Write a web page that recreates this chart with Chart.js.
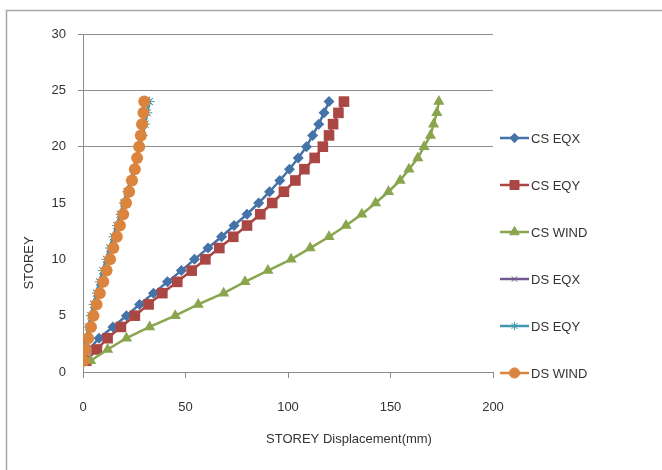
<!DOCTYPE html>
<html>
<head>
<meta charset="utf-8">
<script src="https://cdn.jsdelivr.net/npm/chart.js"></script>
<style>
  html, body { margin: 0; padding: 0; background: #fff; overflow: hidden; }
  #wrap { position: relative; width: 662px; height: 470px; }
</style>
</head>
<body>
<div id="wrap"><canvas id="chart" width="662" height="470"></canvas></div>
<script>
// storeys 1..24
const storeys = [1,2,3,4,5,6,7,8,9,10,11,12,13,14,15,16,17,18,19,20,21,22,23,24];

// displacement in mm
const csEqx  = [0.6,3.0,7.8,14.6,21.2,27.6,34.4,41.2,48.0,54.4,61.0,67.6,73.7,80.0,85.7,91.0,96.0,100.7,105.0,109.0,112.0,115.0,117.6,120.0];
const csEqy  = [1.6,6.8,12.0,18.5,25.3,32.0,38.7,46.0,53.0,59.7,66.5,73.3,80.0,86.5,92.3,98.0,103.6,108.0,113.0,117.0,120.0,122.0,124.6,127.3];
const csWind = [3.7,12.0,21.2,32.5,45.0,56.2,68.6,79.0,90.2,101.5,110.8,120.0,128.3,136.0,142.7,149.0,154.7,159.0,163.3,166.4,169.5,171.0,172.6,173.6];
const dsEqx  = [0.3,0.8,1.6,2.6,3.8,5.1,6.5,8.0,9.6,11.3,13.0,14.7,16.4,18.1,19.8,21.5,23.1,24.7,26.2,27.6,28.9,30.1,31.2,32.2];
const dsEqy  = [0.3,0.9,1.7,2.7,3.9,5.2,6.7,8.2,9.8,11.5,13.2,14.9,16.6,18.3,20.0,21.7,23.3,24.9,26.4,27.8,29.1,30.3,31.4,32.5];
const dsWind = [0.4,1.4,2.5,3.9,5.1,6.6,8.2,9.9,11.5,13.2,14.8,16.5,18.0,19.6,21.0,22.5,23.9,25.3,26.4,27.4,28.2,28.8,29.5,29.9];

const seriesNames = ['CS EQX','CS EQY','CS WIND','DS EQX','DS EQY','DS WIND'];
const seriesData  = [csEqx, csEqy, csWind, dsEqx, dsEqy, dsWind];
const colors  = ['#4572A7','#AA4643','#89A54E','#71588F','#4198AF','#DB843D'];
const shapes  = ['rectRot','rect','triangle','crossRot','star','circle'];
const radii   = [5.5,7.5,6.5,4.5,5,6];

const yTicks = [0,5,10,15,20,25,30];
const xTicks = [0,50,100,150,200];

const FONT = '"Liberation Sans", Arial, sans-serif';

const datasets = seriesNames.map((name, i) => ({
  label: name,
  data: seriesData[i].map((v, k) => ({ x: v, y: storeys[k] })),
  borderColor: colors[i],
  backgroundColor: colors[i],
  borderWidth: 2.5,
  pointStyle: shapes[i],
  pointRadius: radii[i],
  pointBorderWidth: (shapes[i] === 'crossRot' || shapes[i] === 'star') ? 1 : 0,
  pointBorderColor: colors[i],
  showLine: true,
  tension: 0,
  order: 10 - i
}));

// frame, axis titles and Excel-like legend
const decor = {
  id: 'decor',
  beforeDraw(chart) {
    const ctx = chart.ctx;
    ctx.save();
    ctx.fillStyle = '#fff';
    ctx.fillRect(0, 0, chart.width, chart.height);
    ctx.strokeStyle = '#a6a6a6';
    ctx.lineWidth = 1.5;
    ctx.beginPath();
    ctx.moveTo(6.5, 480);
    ctx.lineTo(6.5, 10.5);
    ctx.lineTo(700, 10.5);
    ctx.stroke();
    ctx.restore();
  },
  afterDraw(chart) {
    const ctx = chart.ctx;
    ctx.save();
    ctx.fillStyle = '#333';
    ctx.font = '13px ' + FONT;
    ctx.textAlign = 'center';
    ctx.textBaseline = 'middle';
    ctx.fillText('STOREY Displacement(mm)', 349, 439);
    ctx.translate(29, 263);
    ctx.rotate(-Math.PI / 2);
    ctx.fillText('STOREY', 0, 0);
    ctx.restore();

    ctx.save();
    ctx.font = '13px ' + FONT;
    ctx.textAlign = 'left';
    ctx.textBaseline = 'middle';
    seriesNames.forEach((name, i) => {
      const y = 138 + i * 47;
      ctx.strokeStyle = colors[i];
      ctx.lineWidth = 2.5;
      ctx.beginPath();
      ctx.moveTo(500, y);
      ctx.lineTo(529, y);
      ctx.stroke();
      ctx.fillStyle = colors[i];
      ctx.strokeStyle = colors[i];
      ctx.lineWidth = 1;
      Chart.helpers.drawPoint(ctx, { pointStyle: shapes[i], radius: radii[i] * 0.85, borderWidth: 1 }, 514.5, y);
      ctx.fillStyle = '#333';
      ctx.fillText(name, 531, y + 1);
    });
    ctx.restore();
  }
};

new Chart(document.getElementById('chart'), {
  type: 'scatter',
  data: { datasets },
  options: {
    responsive: false,
    animation: false,
    layout: { padding: { left: 0, right: 169, top: 34, bottom: 0 } },
    plugins: { legend: { display: false }, tooltip: { enabled: false } },
    scales: {
      x: {
        type: 'linear',
        min: 0, max: 200,
        afterBuildTicks(scale) { scale.ticks = xTicks.map(v => ({ value: v })); },
        afterFit(scale) { scale.height = 98; },
        grid: {
          drawOnChartArea: false,
          drawTicks: true,
          tickLength: 6,
          color: '#8c8c8c'
        },
        border: { color: '#8c8c8c', width: 1 },
        ticks: { color: '#333', font: { family: FONT, size: 13 }, padding: 22 }
      },
      y: {
        type: 'linear',
        min: 0, max: 30,
        afterBuildTicks(scale) { scale.ticks = yTicks.map(v => ({ value: v })); },
        afterFit(scale) { scale.width = 83; },
        grid: {
          color: ctx => (ctx.tick && ctx.tick.value >= 20) ? '#8c8c8c' : 'rgba(0,0,0,0)',
          tickLength: 5,
          lineWidth: 1
        },
        border: { color: '#8c8c8c', width: 1 },
        ticks: { color: '#333', font: { family: FONT, size: 13 }, padding: 12 }
      }
    }
  },
  plugins: [decor]
});
</script>
</body>
</html>
